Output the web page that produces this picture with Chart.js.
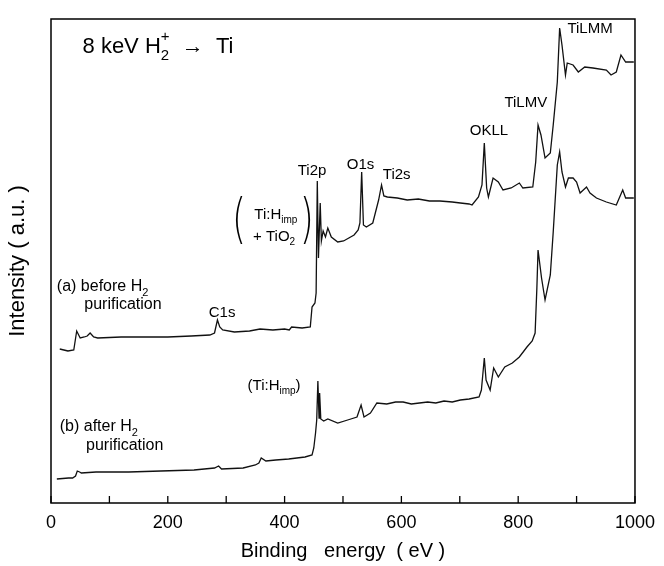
<!DOCTYPE html>
<html>
<head>
<meta charset="utf-8">
<script src="https://cdn.jsdelivr.net/npm/chart.js@4/dist/chart.umd.min.js"></script>
<style>
  html, body { margin: 0; padding: 0; background: #fff; }
  #wrap { width: 664px; height: 566px; }
</style>
</head>
<body>
<div id="wrap"><canvas id="c" width="664" height="566"></canvas></div>
<script>
// XPS survey spectra of Ti after 8 keV H2+ implantation (arbitrary intensity units)
const energyA = [15, 29, 39, 44, 50, 57, 62, 67, 73, 80, 120, 160, 200, 240, 272, 280, 285, 289, 294, 314,
  340, 358, 380, 400, 408, 412, 430, 444, 447, 452, 454, 456, 458, 461, 463, 466, 470, 474, 480, 491, 501,
  510, 519, 526, 529, 532, 535, 540, 551, 561, 566, 570, 576, 593, 610, 629, 648, 666, 687, 701, 716,
  721, 732, 738, 742, 746, 749, 757, 766, 774, 788, 802, 808, 825, 830, 834, 839, 846, 855, 860, 867,
  871, 875, 881, 884, 894, 903, 914, 928, 951, 959, 968, 976, 984, 994, 998];
const intensityA = [154, 152, 153, 172, 165, 166, 167, 170, 166, 165, 166, 166, 166, 167, 168, 170, 183, 176, 173, 171,
  172, 174, 173, 174, 173, 176, 175, 176, 196, 200, 210, 322, 245, 300, 262, 272, 266, 275, 266, 261, 262,
  265, 268, 273, 280, 331, 278, 276, 280, 303, 318, 307, 306, 305, 303, 304, 302, 302, 301, 300, 299,
  298, 306, 318, 360, 315, 306, 325, 321, 313, 315, 320, 315, 316, 341, 378, 368, 345, 350, 378, 421,
  475, 458, 428, 440, 438, 431, 436, 435, 433, 428, 431, 448, 441, 441, 441];

const energyB = [10, 30, 37, 42, 45, 49, 52, 77, 133, 188, 245, 280, 287, 292, 329, 350, 356, 360, 368, 385,
  407, 435, 447, 450, 453, 455, 457, 459, 460, 462, 467, 474, 491, 508, 524, 531, 536, 547, 558, 575,
  590, 603, 617, 631, 645, 659, 673, 687, 701, 716, 733, 737, 742, 745, 752, 758, 766, 777, 790, 802,
  815, 824, 829, 832, 834, 840, 846, 855, 860, 867, 871, 875, 881, 886, 894, 900, 906, 917, 923, 934,
  951, 968, 979, 984, 998];
const intensityB = [24, 25, 25, 27, 32, 31, 30, 31, 31, 32, 33, 35, 37, 34, 35, 38, 40, 45, 42, 43,
  44, 46, 48, 55, 70, 83, 122, 85, 110, 84, 82, 84, 80, 83, 86, 98, 86, 90, 100, 99,
  101, 101, 99, 100, 101, 100, 102, 101, 103, 104, 106, 113, 145, 123, 113, 135, 126, 136, 140, 146,
  156, 162, 170, 215, 253, 225, 203, 228, 271, 338, 351, 331, 316, 325, 325, 321, 310, 316, 310, 305,
  301, 298, 313, 305, 305];

const tickLabelsX = ['0', '200', '400', '600', '800', '1000'];

const FONT = '"Liberation Sans", Arial, sans-serif';

// Peak labels anchored in data coordinates (energy, intensity)
const peakLabels = [
  { text: 'TiLMM', e: 923, i: 474 },
  { text: 'TiLMV', e: 813, i: 400 },
  { text: 'OKLL', e: 750, i: 372 },
  { text: 'Ti2p', e: 447, i: 332 },
  { text: 'O1s', e: 530, i: 338 },
  { text: 'Ti2s', e: 592, i: 328 },
  { text: 'C1s', e: 293, i: 190 }
];

function drawRich(ctx, parts, x, y, size, align) {
  const small = Math.round(size * 0.68);
  let w = 0;
  const items = parts.map(p => {
    let pw;
    if (p.t !== undefined) {
      ctx.font = `${size}px ${FONT}`;
      pw = ctx.measureText(p.t).width;
    } else {
      ctx.font = `${small}px ${FONT}`;
      pw = Math.max(p.sub ? ctx.measureText(p.sub).width : 0, p.sup ? ctx.measureText(p.sup).width : 0);
    }
    w += pw;
    return Object.assign({ w: pw }, p);
  });
  let cx = align === 'center' ? x - w / 2 : x;
  ctx.textAlign = 'left';
  ctx.textBaseline = 'middle';
  items.forEach(it => {
    if (it.t !== undefined) {
      ctx.font = `${size}px ${FONT}`;
      ctx.fillText(it.t, cx, y);
    } else {
      ctx.font = `${small}px ${FONT}`;
      if (it.sub) ctx.fillText(it.sub, cx, y + size * 0.38);
      if (it.sup) ctx.fillText(it.sup, cx, y - size * 0.48);
    }
    cx += it.w;
  });
}

function bigParen(ctx, ch, x, y) {
  ctx.save();
  ctx.translate(x, y);
  ctx.scale(0.9, 1.35);
  ctx.font = `200 40px "DejaVu Sans", ${FONT}`;
  ctx.textAlign = 'center';
  ctx.textBaseline = 'middle';
  ctx.fillText(ch, 0, 0);
  ctx.restore();
}

const frameAndTicks = {
  id: 'frameAndTicks',
  afterDatasetsDraw(chart) {
    const { ctx, chartArea: a, scales: { x } } = chart;
    ctx.save();
    ctx.strokeStyle = '#000';
    ctx.lineWidth = 1.5;
    ctx.strokeRect(a.left, a.top, a.right - a.left, a.bottom - a.top);
    ctx.lineWidth = 1.3;
    x.ticks.forEach(t => {
      const px = x.getPixelForValue(t.value);
      ctx.beginPath();
      ctx.moveTo(px, a.bottom);
      ctx.lineTo(px, a.bottom - 7);
      ctx.stroke();
    });
    ctx.restore();
  }
};

const annotations = {
  id: 'annotations',
  afterDatasetsDraw(chart) {
    const { ctx, scales: { x, y } } = chart;
    const X = v => x.getPixelForValue(v);
    const Y = v => y.getPixelForValue(v);
    ctx.save();
    ctx.fillStyle = '#000';

    drawRich(ctx, [{ t: '8 keV H' }, { sub: '2', sup: '+' }, { t: '  \u2192  Ti' }], X(54), Y(456), 22, 'left');

    peakLabels.forEach(p => drawRich(ctx, [{ t: p.text }], X(p.e), Y(p.i), 15, 'center'));

    // bracketed assignment for the Ti2p peak of spectrum (a)
    drawRich(ctx, [{ t: 'Ti:H' }, { sub: 'imp' }], X(385), Y(288), 15, 'center');
    drawRich(ctx, [{ t: '+ TiO' }, { sub: '2' }], X(382), Y(266), 15, 'center');
    bigParen(ctx, '(', X(322), Y(280));
    bigParen(ctx, ')', X(438), Y(280));

    drawRich(ctx, [{ t: '(Ti:H' }, { sub: 'imp' }, { t: ')' }], X(382), Y(117), 15, 'center');

    drawRich(ctx, [{ t: '(a) before H' }, { sub: '2' }], X(10), Y(216), 16, 'left');
    drawRich(ctx, [{ t: 'purification' }], X(57), Y(198), 16, 'left');
    drawRich(ctx, [{ t: '(b) after H' }, { sub: '2' }], X(15), Y(76), 16, 'left');
    drawRich(ctx, [{ t: 'purification' }], X(60), Y(57), 16, 'left');
    ctx.restore();
  }
};

const toPoints = (xs, ys) => xs.map((v, k) => ({ x: v, y: ys[k] }));

new Chart(document.getElementById('c'), {
  type: 'line',
  data: {
    datasets: [
      { label: '(a) before H2 purification', data: toPoints(energyA, intensityA) },
      { label: '(b) after H2 purification', data: toPoints(energyB, intensityB) }
    ]
  },
  options: {
    responsive: false,
    animation: false,
    devicePixelRatio: 1,
    layout: { padding: { top: 19, right: 18, bottom: 0, left: 3 } },
    elements: {
      point: { radius: 0 },
      line: { borderColor: '#111', borderWidth: 1.3, tension: 0, fill: false }
    },
    plugins: { legend: { display: false }, tooltip: { enabled: false } },
    scales: {
      x: {
        type: 'linear', min: 0, max: 1000,
        grid: { display: false, drawTicks: false },
        border: { display: false },
        afterFit: s => { s.height = 63; },
        ticks: {
          stepSize: 100, autoSkip: false, maxRotation: 0, padding: 9,
          color: '#000', font: { family: FONT, size: 18 },
          callback: v => (tickLabelsX.includes(String(v)) ? String(v) : '')
        },
        title: {
          display: true, text: 'Binding   energy  ( eV )', color: '#000',
          font: { family: FONT, size: 20 }, padding: { top: 0, bottom: 3 }
        }
      },
      y: {
        min: 0, max: 484,
        grid: { display: false, drawTicks: false },
        border: { display: false },
        ticks: { display: false },
        afterFit: s => { s.width = 48; },
        title: {
          display: true, text: 'Intensity ( a.u. )', color: '#000',
          font: { family: FONT, size: 22 }, padding: { top: 2, bottom: 0 }
        }
      }
    }
  },
  plugins: [frameAndTicks, annotations]
});
</script>
</body>
</html>
